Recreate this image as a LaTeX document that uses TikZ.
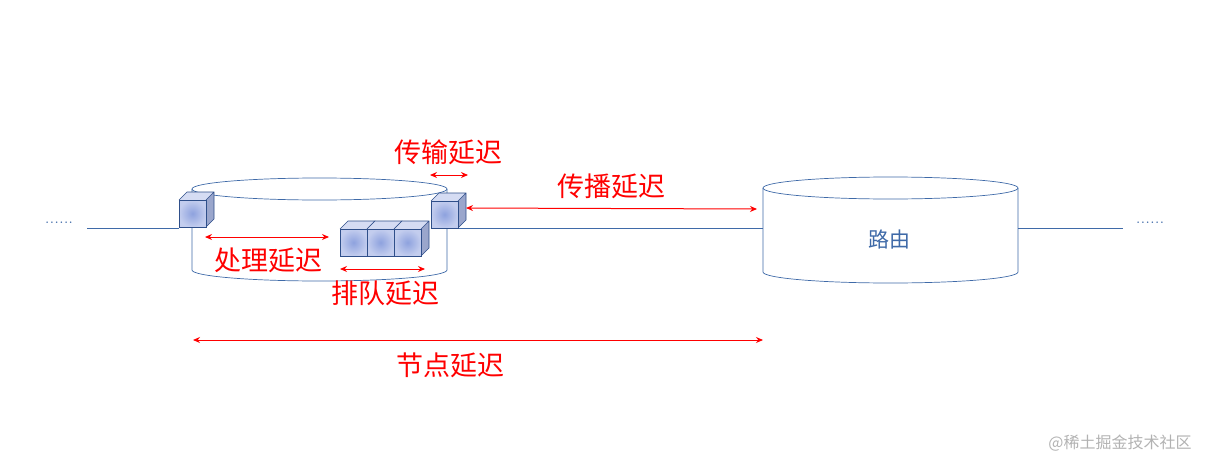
\documentclass[tikz,border=0pt]{standalone}
\usepackage{fontspec}
\usetikzlibrary{arrows.meta}
\newfontfamily\cjk{Noto Sans CJK SC}
\definecolor{lnc}{HTML}{3F6AA8}
\definecolor{cfa}{HTML}{8EA2DE}
\definecolor{cfb}{HTML}{C3CDEE}
\definecolor{ctop}{HTML}{D5DCF3}
\definecolor{cside}{HTML}{9AA6CC}
\definecolor{cedge}{HTML}{2F4F8A}
\begin{document}
\begin{tikzpicture}[x=1pt,y=-1pt,
  ln/.style={draw=lnc, line width=0.7pt},
  ra/.style={draw=red, line width=1pt, {Stealth[length=7pt,width=6pt]}-{Stealth[length=7pt,width=6pt]}},
  lbl/.style={text=red, font=\cjk\fontsize{27}{27}\selectfont},
  cubef/.style={draw=cedge, line width=0.6pt, inner color=cfa, outer color=cfb}]
\useasboundingbox (0,0) rectangle (1216,471);
\def\cyl#1#2#3#4{% x1 x2 ytop ybot
  \fill[white] (#1,#3) rectangle (#2,#4);
  \draw[ln] (#1,#3) -- (#1,#4) arc[start angle=180,end angle=0,x radius={(#2-#1)/2},y radius=11] -- (#2,#3);
  \draw[ln] ({(#1+#2)/2},#3) ellipse[x radius={(#2-#1)/2},y radius=11];}
\def\cube#1#2{% front top-left
  \fill[cside] (#1+27,#2) -- (#1+35,#2-8) -- (#1+35,#2+19) -- (#1+27,#2+27) -- cycle;
  \fill[ctop] (#1,#2) -- (#1+8,#2-8) -- (#1+35,#2-8) -- (#1+27,#2) -- cycle;
  \draw[cedge,line width=0.6pt] (#1,#2) -- (#1+8,#2-8) -- (#1+35,#2-8) -- (#1+35,#2+19) -- (#1+27,#2+27) (#1+27,#2) -- (#1+35,#2-8);
  \path[cubef] (#1,#2) rectangle (#1+27,#2+27);}
\cyl{192}{447}{189}{270}
\cyl{763}{1018}{188}{272}
\coordinate (l0) at (87,228); \coordinate (l1) at (179,228);
\coordinate (m0) at (457,228); \coordinate (m1) at (763,228);
\coordinate (r0) at (1018,228); \coordinate (r1) at (1123,228);
\draw[ln] (l0) -- (l1); \draw[ln] (m0) -- (m1); \draw[ln] (r0) -- (r1);
\node[text=lnc, font=\fontsize{19}{19}\selectfont] (d1) at (59,223) {......};
\node[text=lnc, font=\fontsize{19}{19}\selectfont] (d2) at (1150,223) {......};
\cube{179}{200}
\cube{431}{201}
\cube{340}{229}\cube{367}{229}\cube{394}{229}
\node[text=lnc, font=\cjk\fontsize{21}{21}\selectfont] (ly) at (889,240) {路由};
\coordinate (a1) at (430,175); \coordinate (a2) at (468,175);
\draw[ra] (a1) -- (a2); \node[lbl] (t1) at (448,152) {传输延迟};
\coordinate (b1) at (466,208); \coordinate (b2) at (757,209);
\draw[ra] (b1) -- (b2); \node[lbl] (t2) at (611,186) {传播延迟};
\coordinate (c1) at (205,237); \coordinate (c2) at (329,237);
\draw[ra] (c1) -- (c2); \node[lbl] (t3) at (268,260) {处理延迟};
\coordinate (e1) at (340,269); \coordinate (e2) at (425,269);
\draw[ra] (e1) -- (e2); \node[lbl] (t4) at (385,293) {排队延迟};
\coordinate (f1) at (193,340); \coordinate (f2) at (763,340);
\draw[ra] (f1) -- (f2); \node[lbl] (t5) at (450,365) {节点延迟};
\node[text=gray!60, font=\cjk\fontsize{16}{16}\selectfont] (wm) at (1120,443) {@稀土掘金技术社区};
\end{tikzpicture}
\end{document}
